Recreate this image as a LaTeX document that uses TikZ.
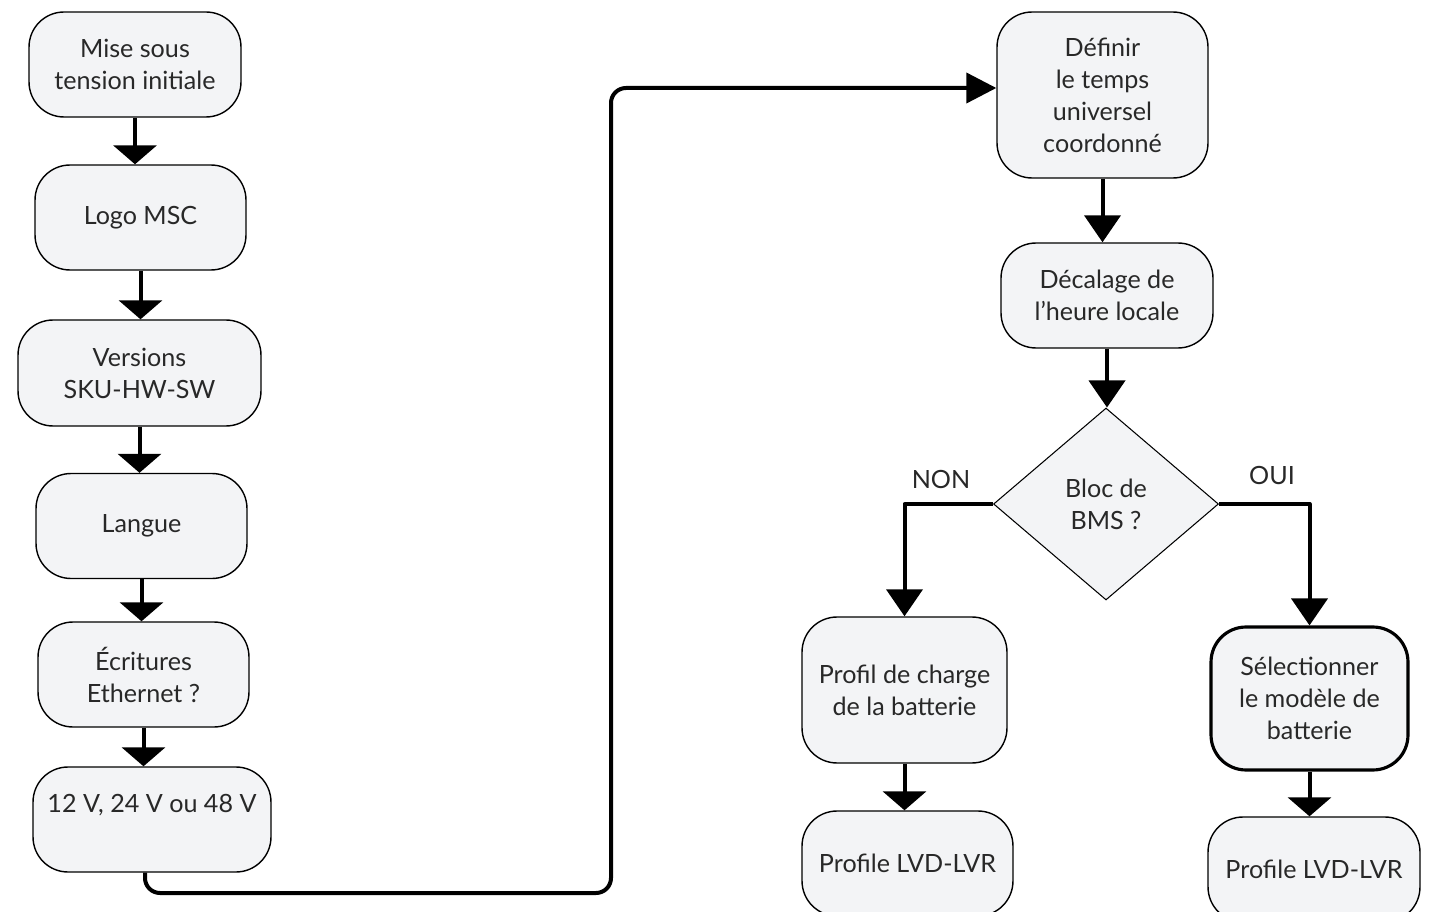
\documentclass[tikz,border=0pt]{standalone}
\usepackage{fontspec}
\setmainfont{Lato}
\usetikzlibrary{arrows.meta,shapes.geometric}
\tikzset{
  flow/.style={
    text=ink,
    font=\fontsize{14.3}{18.2}\selectfont,
    align=center
  },
  flow-box/.style={
    flow,
    draw=black,
    fill=boxgray,
    line width=0.8pt,
    rounded corners=0.7cm,
    inner sep=0pt
  },
  flow-box-bold/.style={flow-box, line width=1.8pt},
  flow-diamond/.style={flow, diamond, draw=black, fill=boxgray, line width=0.6pt, inner sep=0pt, minimum width=4.5cm, minimum height=3.84cm},
  link/.style={line width=0.08cm, line join=round},
  link-flat/.style={link, -{Triangle[length=0.38cm,width=0.86cm]}},
  link-tall/.style={link, -{Triangle[length=0.54cm,width=0.72cm]}},
  link-side/.style={link, rounded corners=0.3cm, -{Triangle[length=0.6cm,width=0.6cm]}}
}
\definecolor{boxgray}{RGB}{243,244,246}
\definecolor{ink}{RGB}{40,40,40}

\begin{document}
\begin{tikzpicture}[x=0.02cm, y=-0.02cm]
  \useasboundingbox (0,0) rectangle (1437,912);
  \clip (0,0) rectangle (1437,912);
  % Left column
  \node[flow-box, minimum width=4.24cm, minimum height=2.1cm] (power) at (135,64.5) {Mise sous\\tension initiale};
  \node[flow-box, minimum width=4.22cm, minimum height=2.1cm] (logo) at (140.5,217.5) {Logo MSC};
  \node[flow-box, minimum width=4.86cm, minimum height=2.12cm] (versions) at (139.5,373) {Versions\\SKU-HW-SW};
  \node[flow-box, minimum width=4.22cm, minimum height=2.1cm] (language) at (141.5,526) {Langue};
  \node[flow-box, minimum width=4.22cm, minimum height=2.1cm] (ethernet) at (143.5,674.5) {Écritures\\Ethernet ?};
  \node[flow-box, minimum width=4.76cm, minimum height=2.1cm] (volts) at (152,819.5) {12 V, 24 V ou 48 V\\{}};
  \draw[link-flat] (power.south) -- (power.south |- logo.north);
  \draw[link-flat] (logo.south) -- (logo.south |- versions.north);
  \draw[link-flat] (versions.south) -- (versions.south |- language.north);
  \draw[link-flat] (language.south) -- (language.south |- ethernet.north);
  \draw[link-flat] (ethernet.south) -- (ethernet.south |- volts.north);
  % Right column
  \node[flow-box, minimum width=4.22cm, minimum height=3.32cm] (utc) at (1102.5,95) {Définir\\le temps\\universel\\coordonné};
  \node[flow-box, minimum width=4.24cm, minimum height=2.1cm] (offset) at (1107,295.5) {Décalage de\\l’heure locale};
  \node[flow-diamond] (bms) at (1106,504) {Bloc de\\BMS ?};
  \node[flow-box, minimum width=4.1cm, minimum height=2.92cm] (charge) at (904.5,690) {Profil de charge\\de la batterie};
  \node[flow-box-bold, minimum width=3.94cm, minimum height=2.86cm] (model) at (1309.5,698.5) {Sélectionner\\le modèle de\\batterie};
  \node[flow-box, minimum width=4.22cm, minimum height=2.1cm] (lvd-left) at (907.5,863.5) {Profile LVD-LVR};
  \node[flow-box, minimum width=4.24cm, minimum height=2.1cm] (lvd-right) at (1314,869.5) {Profile LVD-LVR};
  \node[flow] (no-label) at (941,479) {NON};
  \node[flow] (yes-label) at (1272,476) {OUI};
  % Jump between columns
  \coordinate (turn) at (611,893);
  \draw[link-side] ([xshift=-0.14cm]volts.south) |- (turn) |- ([yshift=0.14cm]utc.west);
  \draw[link-tall] (utc.south) -- (utc.south |- offset.north);
  \draw[link-tall] (offset.south) -- (offset.south |- bms.north);
  \draw[link-tall] (bms.west) -| (charge.north);
  \draw[link-tall] (bms.east) -| (model.north);
  \draw[link-flat] (charge.south) -- (charge.south |- lvd-left.north);
  \draw[link-flat] (model.south) -- (model.south |- lvd-right.north);
\end{tikzpicture}
\end{document}
